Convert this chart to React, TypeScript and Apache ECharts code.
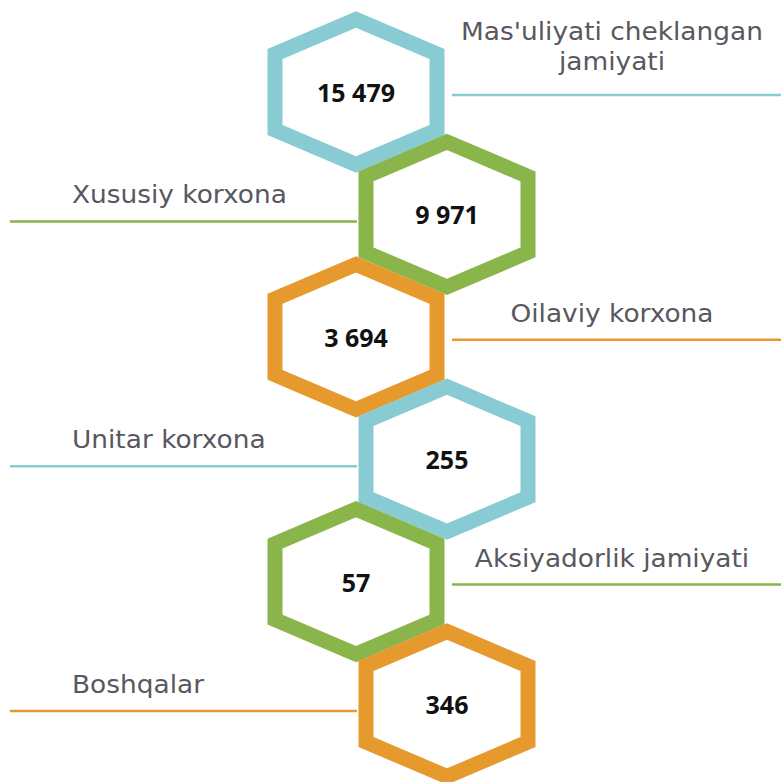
import React, { useEffect, useRef } from "react";
import * as echarts from "echarts";

// ---- Data ----
const categories: string[] = [
  "Mas'uliyati cheklangan\njamiyati",
  "Xususiy korxona",
  "Oilaviy korxona",
  "Unitar korxona",
  "Aksiyadorlik jamiyati",
  "Boshqalar",
];
const values: number[] = [15479, 9971, 3694, 255, 57, 346];
// column of each hexagon in the zig-zag (0 = left, 1 = right)
const columns: number[] = [0, 1, 0, 1, 0, 1];
const palette: string[] = ["#88cbd2", "#8ab54a", "#e69a2e", "#88cbd2", "#8ab54a", "#e69a2e"];

// ---- Layout constants ----
const W = 781;
const H = 782;
const COL0_PX = 356;
const COL_STEP_PX = 91;
const ROW0_PX = 92;
const ROW_STEP_PX = 122.4;
const HEX_HALF_W = 81;
const HEX_VERTEX = 72.5;
const HEX_SIDE = 38;
const HEX_STROKE = 15;

const xMin = -COL0_PX / COL_STEP_PX;
const xMax = xMin + W / COL_STEP_PX;
const yMin = -ROW0_PX / ROW_STEP_PX;
const yMax = yMin + H / ROW_STEP_PX;

const fmt = (v: number) => String(v).replace(/\B(?=(\d{3})+(?!\d))/g, " ");

export default function App() {
  const ref = useRef<HTMLDivElement>(null);

  useEffect(() => {
    document.body.style.margin = "0";
    if (!ref.current) return;
    const chart = echarts.init(ref.current, null, { renderer: "svg" });

    const data = values.map((v, i) => [columns[i], i, v]);

    chart.setOption({
      animation: false,
      backgroundColor: "#ffffff",
      grid: { left: 0, right: 0, top: 0, bottom: 0 },
      xAxis: { type: "value", min: xMin, max: xMax, show: false },
      yAxis: { type: "value", min: yMin, max: yMax, inverse: true, show: false },
      series: [
        {
          type: "custom",
          clip: false,
          data,
          encode: { x: 0, y: 1 },
          renderItem: (params: any, api: any) => {
            const i = params.dataIndex;
            const col = api.value(0);
            const row = api.value(1);
            const [cx, cy] = api.coord([col, row]);
            const color = palette[i];
            const chartW = api.getWidth();
            const pts = [
              [cx, cy - HEX_VERTEX],
              [cx + HEX_HALF_W, cy - HEX_SIDE],
              [cx + HEX_HALF_W, cy + HEX_SIDE],
              [cx, cy + HEX_VERTEX],
              [cx - HEX_HALF_W, cy + HEX_SIDE],
              [cx - HEX_HALF_W, cy - HEX_SIDE],
            ];
            const isLeft = col === 0;
            const lineY = cy + (isLeft ? 3 : 7);
            const lx1 = isLeft ? cx + 96 : 10;
            const lx2 = isLeft ? chartW : cx - 90;
            const label = categories[i];
            const nLines = label.split("\n").length;
            const labelY = lineY - 11 - (nLines - 1) * 7;
            return {
              type: "group",
              children: [
                {
                  type: "line",
                  shape: { x1: lx1, y1: lineY, x2: lx2, y2: lineY },
                  style: { stroke: color, lineWidth: 2.5 },
                },
                {
                  type: "polygon",
                  shape: { points: pts },
                  style: {
                    fill: "#ffffff",
                    stroke: color,
                    lineWidth: HEX_STROKE,
                    lineJoin: "miter",
                  },
                },
                {
                  type: "text",
                  style: {
                    text: fmt(api.value(2)),
                    x: cx,
                    y: cy,
                    align: "center",
                    verticalAlign: "middle",
                    fontFamily: "Open Sans",
                    fontWeight: "bold",
                    fontSize: 25,
                    fill: "#111111",
                  },
                },
                {
                  type: "text",
                  x: isLeft ? cx + 256 : 72,
                  y: labelY,
                  scaleX: 1.1,
                  style: {
                    text: label,
                    x: 0,
                    y: 0,
                    align: isLeft ? "center" : "left",
                    verticalAlign: "bottom",
                    fontFamily: "DejaVu Sans",
                    fontSize: 24,
                    lineHeight: 30,
                    fill: "#58585f",
                  },
                },
              ],
            };
          },
        },
      ],
    });

    return () => chart.dispose();
  }, []);

  return (
    <div
      ref={ref}
      style={{ position: "absolute", left: 0, top: 0, width: W, height: H }}
    />
  );
}
